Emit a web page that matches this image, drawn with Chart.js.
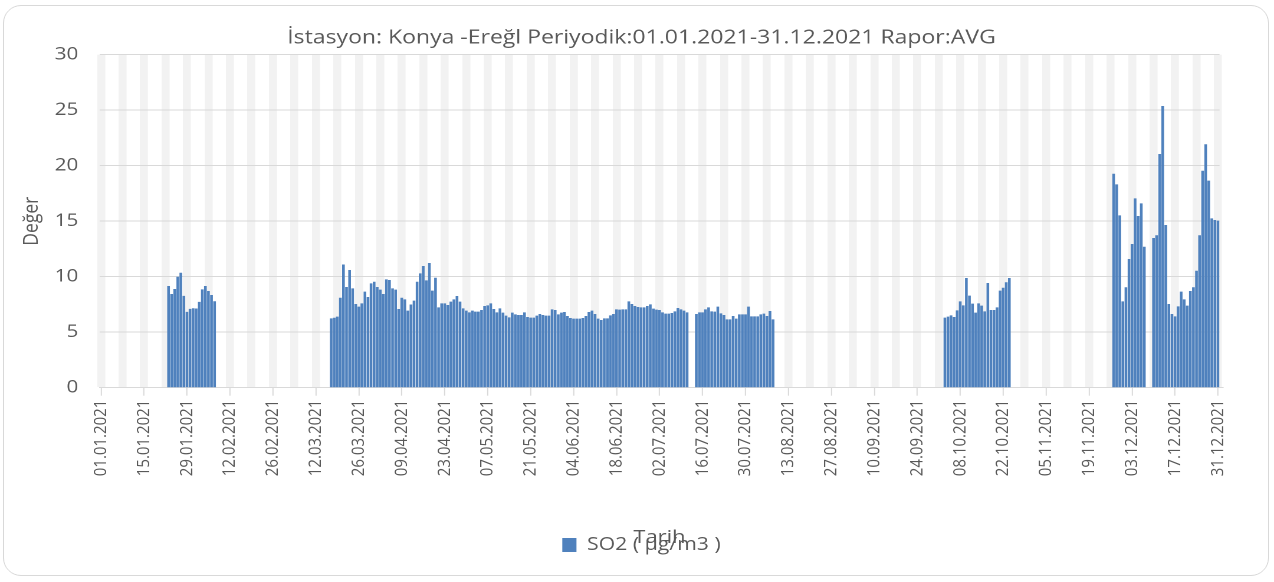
<!DOCTYPE html>
<html>
<head>
<meta charset="utf-8">
<script src="https://cdn.jsdelivr.net/npm/chart.js@4.4.1/dist/chart.umd.min.js"></script>
<style>
  body { margin: 0; background: #fff; }
  #wrap { position: relative; width: 1274px; height: 582px; overflow: hidden; }
  #frame { position: absolute; left: 3px; top: 5px; width: 1264px; height: 569px; border: 1.5px solid #d9d9d9; border-radius: 18px; }
  /* orijinal resim yatayda gerilmis, ayni etkiyi veriyoruz */
  #stretch { position: absolute; left: 0; top: 0; width: 1080px; height: 582px; transform: scaleX(1.17963); transform-origin: 0 0; }
</style>
</head>
<body>
<div id="wrap">
  <div id="frame"></div>
  <div id="stretch"><canvas id="so2Chart" width="1080" height="582"></canvas></div>
</div>
<script>
// SO2 gunluk ortalama - Konya Eregli 2021
const chartTitle = 'İstasyon: Konya -Ereğl Periyodik:01.01.2021-31.12.2021 Rapor:AVG';
const seriesName = 'SO2 ( µg/m3 )';

// x ekseni: 2021 yilinin her gunu
const dates = [];
for (let d = new Date(2021, 0, 1); d.getFullYear() === 2021; d.setDate(d.getDate() + 1)) {
    dates.push(String(d.getDate()).padStart(2, '0') + '.' + String(d.getMonth() + 1).padStart(2, '0') + '.2021');
}

// olcum olan donemler (baslangic tarihi + gunluk degerler)
const janStart = '23.01.2021';
const janValues = [9.16, 8.44, 8.89, 10.0, 10.36, 8.27, 6.83, 7.10, 7.16, 7.13, 7.73, 8.86, 9.16, 8.71, 8.35, 7.79];

const springStart = '17.03.2021';
const springValues = [
    6.25, 6.3, 6.4, 8.1, 11.1, 9.07, 10.6, 8.95, 7.54, 7.3, 7.6, 8.65, 8.17, 9.4, 9.55, 9.07,
    8.83, 8.44, 9.76, 9.7, 8.95, 8.83, 7.09, 8.1, 7.96, 6.94, 7.5, 7.84, 9.55, 10.3, 10.96,
    9.67, 11.23, 8.74, 9.91, 7.24, 7.6, 7.6, 7.45, 7.75, 7.96, 8.26, 7.75, 7.15, 6.94, 6.79,
    6.94, 6.85, 6.85, 7.0, 7.36, 7.42, 7.6, 7.09, 6.79, 7.15, 6.76, 6.49, 6.34, 6.76, 6.61, 6.55,
    6.55, 6.79, 6.37, 6.31, 6.31, 6.49, 6.64, 6.55, 6.49, 6.49, 7.06, 7.0, 6.61, 6.76, 6.82,
    6.46, 6.28, 6.22, 6.22, 6.22, 6.28, 6.46, 6.82, 6.94, 6.64, 6.22, 6.1, 6.25, 6.25, 6.52,
    6.64, 7.06, 7.03, 7.06, 7.06, 7.78, 7.54, 7.36, 7.27, 7.24, 7.24, 7.36, 7.51, 7.12, 7.03,
    7.0, 6.79, 6.67, 6.67, 6.73, 6.88, 7.18, 7.06, 6.94, 6.79
];

const julyStart = '14.07.2021';
const julyValues = [
    6.64, 6.79, 6.79, 7.06, 7.24, 6.88, 6.85, 7.3, 6.7, 6.55, 6.16, 6.16, 6.46,
    6.22, 6.61, 6.61, 6.61, 7.3, 6.43, 6.43, 6.43, 6.61, 6.67, 6.46, 6.91, 6.16
];

const octStart = '03.10.2021';
const octValues = [
    6.31, 6.4, 6.52, 6.37, 6.97, 7.78, 7.42, 9.88, 8.29, 7.57, 6.76,
    7.6, 7.39, 6.88, 9.43, 7.0, 7.0, 7.24, 8.74, 9.01, 9.5, 9.88
];

const novStart = '27.11.2021';
const novValues = [19.28, 18.32, 15.53, 7.78, 9.05, 11.59, 12.95, 17.06, 15.47, 16.61, 12.7];

const decStart = '10.12.2021';
const decValues = [
    13.49, 13.73, 21.05, 25.38, 14.66, 7.54, 6.64, 6.43, 7.33, 8.65, 7.96,
    7.39, 8.71, 9.05, 10.54, 13.73, 19.55, 21.93, 18.65, 15.26, 15.11, 15.05
];

const so2 = dates.map(() => null);
function putRun(start, values) {
    const i0 = dates.indexOf(start);
    values.forEach((v, k) => { so2[i0 + k] = v; });
}
putRun(janStart, janValues);
putRun(springStart, springValues);
putRun(julyStart, julyValues);
putRun(octStart, octValues);
putRun(novStart, novValues);
putRun(decStart, decValues);

Chart.defaults.font.family = "'Open Sans', sans-serif";
Chart.defaults.color = '#595959';

const grey = '#d9d9d9';
const none = 'rgba(0,0,0,0)';

const ctx = document.getElementById('so2Chart').getContext('2d');
new Chart(ctx, {
    type: 'bar',
    data: {
        labels: dates,
        datasets: [{
            label: seriesName,
            data: so2,
            backgroundColor: '#4f81bd',
            categoryPercentage: 0.88,
            barPercentage: 1
        }]
    },
    options: {
        responsive: false,
        animation: false,
        devicePixelRatio: 2,
        layout: { padding: { left: 40, right: 32.4, top: 0, bottom: 18 } },
        plugins: {
            title: {
                display: true,
                text: chartTitle,
                color: '#595959',
                font: { size: 19.5, weight: 'normal' },
                padding: { top: 26.3, bottom: 5 }
            },
            legend: {
                position: 'bottom',
                labels: { boxWidth: 12, boxHeight: 14, font: { size: 18 }, padding: 10 }
            },
            tooltip: { enabled: false }
        },
        scales: {
            x: {
                z: -1,
                afterFit: (s) => { s.height = 138.3; },
                grid: {
                    offset: false,
                    lineWidth: 6.8,
                    tickWidth: 1,
                    tickLength: 8,
                    color: (c) => c.index % 7 === 0 ? '#f2f2f2' : none, // haftalik gri bantlar
                    tickColor: (c) => c.index % 14 === 0 ? grey : none
                },
                border: { color: grey, width: 1 },
                ticks: {
                    autoSkip: false,
                    minRotation: 90,
                    maxRotation: 90,
                    padding: 4,
                    font: { size: 15 },
                    callback: (v, i) => i % 14 === 0 ? dates[i] : ''
                },
                title: {
                    display: true,
                    text: 'Tarih',
                    font: { size: 18.5 },
                    padding: { top: 0, bottom: -23 }
                }
            },
            y: {
                min: 0,
                max: 30,
                afterFit: (s) => { s.width = 44.35; },
                grid: { color: grey, drawTicks: false },
                border: { display: false },
                ticks: { stepSize: 5, padding: 18, font: { size: 17.5 } },
                title: {
                    display: true,
                    text: 'Değer',
                    font: { size: 17.5 },
                    padding: { top: -23.4, bottom: 0 }
                }
            },
            // sag tarafta bos bosluk (baslik ortalamasi icin)
            yRight: {
                position: 'right',
                afterFit: (s) => { s.width = 13.8; },
                grid: { display: false, drawTicks: false },
                border: { display: false },
                ticks: { display: false }
            }
        }
    }
});
</script>
</body>
</html>
